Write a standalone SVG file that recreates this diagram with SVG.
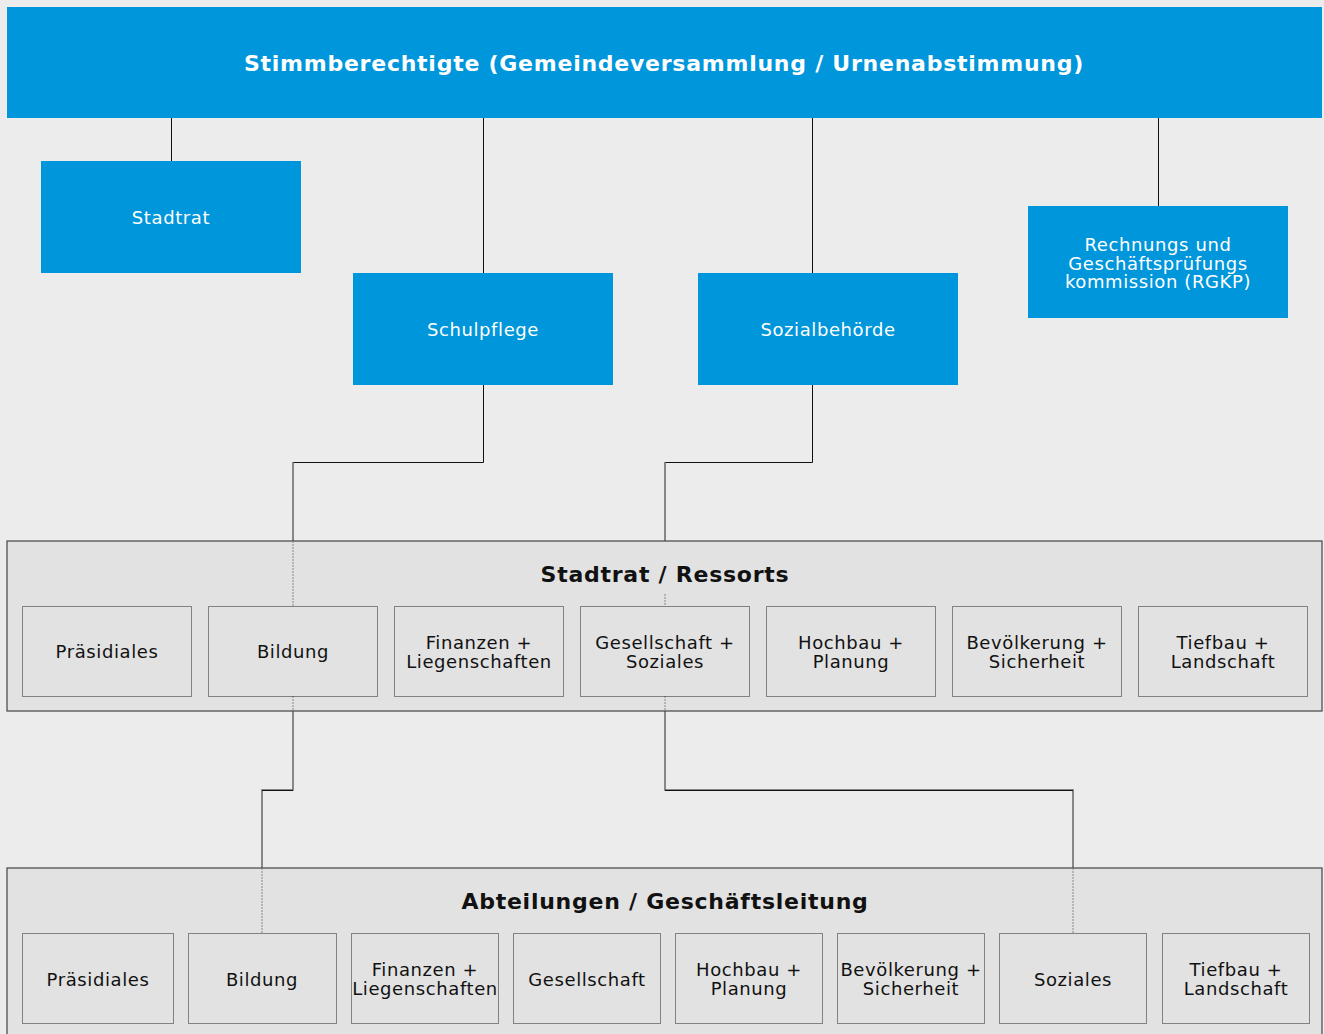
<svg xmlns="http://www.w3.org/2000/svg" width="1324" height="1034" viewBox="0 0 1324 1034">
<style>
text{font-family:"DejaVu Sans","Verdana",sans-serif;text-anchor:middle;letter-spacing:0.6px}
.blue rect{fill:#0096db}
.blue text{fill:#ffffff;font-size:18px}
.title{font-weight:bold;font-size:22px;fill:#111}
.cont{fill:#e2e2e2;stroke:#444;stroke-width:1.2}
.inner rect{fill:none;stroke:#222;stroke-width:1;stroke-dasharray:1,1}
.inner text{fill:#111;font-size:18px}
.con{fill:none;stroke:#111;stroke-width:1}
.con2{fill:none;stroke:#666;stroke-width:1.5}
.dot{fill:none;stroke:#888;stroke-width:1;stroke-dasharray:2,1}
</style>
<rect width="1324" height="1034" fill="#ececec"/>
<g id="connectors">
<path class="con" d="M171.5,118V161M483.5,118V273M812.5,118V273M1158.5,118V206"/>
<path class="con" d="M483.5,385V462.5H293M812.5,385V462.5H665"/>
<path class="con2" d="M293,462V541M665,462V541"/>
<path class="con2" d="M293,711V790H262V868M665,711V790H1073V868"/>
<path class="con" d="M262,790.5H293M665,790.5H1073"/>
</g>
<g id="top" class="blue"><rect x="7" y="7" width="1315" height="111"/><text x="664" y="71" style="font-weight:bold;font-size:22px;letter-spacing:0.75px">Stimmberechtigte (Gemeindeversammlung / Urnenabstimmung)</text></g>
<g id="stadtrat" class="blue"><rect x="41" y="161" width="260" height="112"/><text x="171" y="224">Stadtrat</text></g>
<g id="schulpflege" class="blue"><rect x="353" y="273" width="260" height="112"/><text x="483" y="336">Schulpflege</text></g>
<g id="sozialbehoerde" class="blue"><rect x="698" y="273" width="260" height="112"/><text x="828" y="336">Sozialbehörde</text></g>
<g id="rgkp" class="blue"><rect x="1028" y="206" width="260" height="112"/><text x="1158" y="251">Rechnungs und</text><text x="1158" y="270">Geschäftsprüfungs</text><text x="1158" y="288">kommission (RGKP)</text></g>
<g id="ressorts">
<rect class="cont" x="7" y="541" width="1315" height="170"/>
<text class="title" x="665" y="582" style="letter-spacing:0.75px">Stadtrat / Ressorts</text>
<path class="dot" d="M293,541V606M293,696V711M665,594V606M665,696V711"/>
<g class="inner">
<g id="r-praesidiales"><rect x="22.5" y="606.5" width="169" height="90"/><text x="107" y="658">Präsidiales</text></g>
<g id="r-bildung"><rect x="208.5" y="606.5" width="169" height="90"/><text x="293" y="658">Bildung</text></g>
<g id="r-finanzen"><rect x="394.5" y="606.5" width="169" height="90"/><text x="479" y="649">Finanzen +</text><text x="479" y="668">Liegenschaften</text></g>
<g id="r-gesellschaft"><rect x="580.5" y="606.5" width="169" height="90"/><text x="665" y="649">Gesellschaft +</text><text x="665" y="668">Soziales</text></g>
<g id="r-hochbau"><rect x="766.5" y="606.5" width="169" height="90"/><text x="851" y="649">Hochbau +</text><text x="851" y="668">Planung</text></g>
<g id="r-bevoelkerung"><rect x="952.5" y="606.5" width="169" height="90"/><text x="1037" y="649">Bevölkerung +</text><text x="1037" y="668">Sicherheit</text></g>
<g id="r-tiefbau"><rect x="1138.5" y="606.5" width="169" height="90"/><text x="1223" y="649">Tiefbau +</text><text x="1223" y="668">Landschaft</text></g>
</g>
</g>
<g id="abteilungen">
<rect class="cont" x="7" y="868" width="1315" height="180"/>
<text class="title" x="665" y="909" style="letter-spacing:0.75px">Abteilungen / Geschäftsleitung</text>
<path class="dot" d="M262,868V933M1073,868V933"/>
<g class="inner">
<g id="a-praesidiales"><rect x="22.5" y="933.5" width="151" height="90"/><text x="98" y="986">Präsidiales</text></g>
<g id="a-bildung"><rect x="188.5" y="933.5" width="148" height="90"/><text x="262" y="986">Bildung</text></g>
<g id="a-finanzen"><rect x="351.5" y="933.5" width="147" height="90"/><text x="425" y="976">Finanzen +</text><text x="425" y="995">Liegenschaften</text></g>
<g id="a-gesellschaft"><rect x="513.5" y="933.5" width="147" height="90"/><text x="587" y="986">Gesellschaft</text></g>
<g id="a-hochbau"><rect x="675.5" y="933.5" width="147" height="90"/><text x="749" y="976">Hochbau +</text><text x="749" y="995">Planung</text></g>
<g id="a-bevoelkerung"><rect x="837.5" y="933.5" width="147" height="90"/><text x="911" y="976">Bevölkerung +</text><text x="911" y="995">Sicherheit</text></g>
<g id="a-soziales"><rect x="999.5" y="933.5" width="147" height="90"/><text x="1073" y="986">Soziales</text></g>
<g id="a-tiefbau"><rect x="1162.5" y="933.5" width="147" height="90"/><text x="1236" y="976">Tiefbau +</text><text x="1236" y="995">Landschaft</text></g>
</g>
</g>
</svg>
